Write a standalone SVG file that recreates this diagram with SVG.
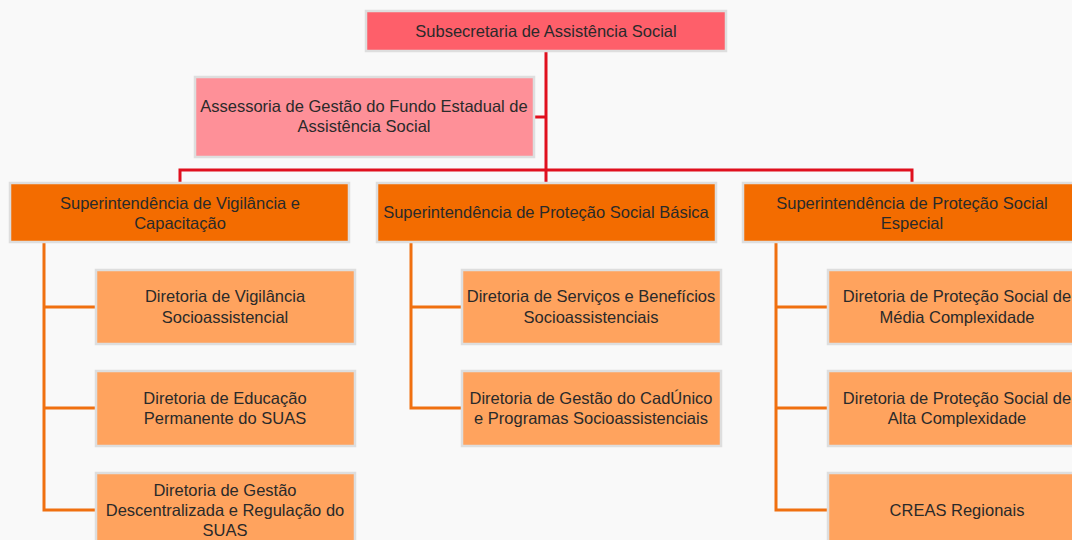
<svg xmlns="http://www.w3.org/2000/svg" width="1072" height="540" viewBox="0 0 1072 540">
<style>
.t{font-family:"Liberation Sans",Arial,sans-serif;font-size:16.5px;fill:#2a2a2a;text-anchor:middle}
.top{fill:#FE5F6A;stroke:#dedede;stroke-width:2.5}
.ass{fill:#FE9098;stroke:#dedede;stroke-width:2.5}
.sup{fill:#F36C00;stroke:#dedede;stroke-width:2.5}
.dir{fill:#FFA35E;stroke:#dedede;stroke-width:2.5}
.cr{fill:none;stroke:#E0101E;stroke-width:3}
.co{fill:none;stroke:#F07010;stroke-width:3}
</style>
<rect width="1072" height="540" fill="#f9f9f9"/>
<g id="connectors">
<path class="cr" d="M546 51V170M534 117H546M180 183V170H912V183M546 170V183"/>
<path class="co" d="M44 242V510H96M44 307H96M44 408H96"/>
<path class="co" d="M411 242V408H462M411 307H462"/>
<path class="co" d="M776 242V510H828M776 307H828M776 408H828"/>
</g>
<g id="n-subsecretaria"><rect class="top" x="366" y="11" width="360" height="40"/><text class="t" x="546" y="37">Subsecretaria de Assistência Social</text></g>
<g id="n-assessoria"><rect class="ass" x="195" y="77" width="339" height="80"/><text class="t" x="364" y="112">Assessoria de Gestão do Fundo Estadual de</text><text class="t" x="364" y="132">Assistência Social</text></g>
<g id="n-sup-vig"><rect class="sup" x="10" y="183" width="339" height="59"/><text class="t" x="180" y="209">Superintendência de Vigilância e</text><text class="t" x="180" y="229">Capacitação</text></g>
<g id="n-sup-psb"><rect class="sup" x="377" y="183" width="339" height="59"/><text class="t" x="546" y="218">Superintendência de Proteção Social Básica</text></g>
<g id="n-sup-pse"><rect class="sup" x="743" y="183" width="339" height="59"/><text class="t" x="912" y="209">Superintendência de Proteção Social</text><text class="t" x="912" y="229">Especial</text></g>
<g id="n-dir-vig"><rect class="dir" x="96" y="270" width="259" height="74"/><text class="t" x="225" y="302">Diretoria de Vigilância</text><text class="t" x="225" y="323">Socioassistencial</text></g>
<g id="n-dir-edu"><rect class="dir" x="96" y="371" width="259" height="75"/><text class="t" x="225" y="404">Diretoria de Educação</text><text class="t" x="225" y="424">Permanente do SUAS</text></g>
<g id="n-dir-gdr"><rect class="dir" x="96" y="473" width="259" height="75"/><text class="t" x="225" y="496">Diretoria de Gestão</text><text class="t" x="225" y="516">Descentralizada e Regulação do</text><text class="t" x="225" y="536">SUAS</text></g>
<g id="n-dir-sbs"><rect class="dir" x="462" y="270" width="259" height="74"/><text class="t" x="591" y="302">Diretoria de Serviços e Benefícios</text><text class="t" x="591" y="323">Socioassistenciais</text></g>
<g id="n-dir-cad"><rect class="dir" x="462" y="371" width="259" height="75"/><text class="t" x="591" y="404">Diretoria de Gestão do CadÚnico</text><text class="t" x="591" y="424">e Programas Socioassistenciais</text></g>
<g id="n-dir-pmc"><rect class="dir" x="828" y="270" width="259" height="74"/><text class="t" x="957" y="302">Diretoria de Proteção Social de</text><text class="t" x="957" y="323">Média Complexidade</text></g>
<g id="n-dir-pac"><rect class="dir" x="828" y="371" width="259" height="75"/><text class="t" x="957" y="404">Diretoria de Proteção Social de</text><text class="t" x="957" y="424">Alta Complexidade</text></g>
<g id="n-creas"><rect class="dir" x="828" y="473" width="259" height="75"/><text class="t" x="957" y="516">CREAS Regionais</text></g>
</svg>
